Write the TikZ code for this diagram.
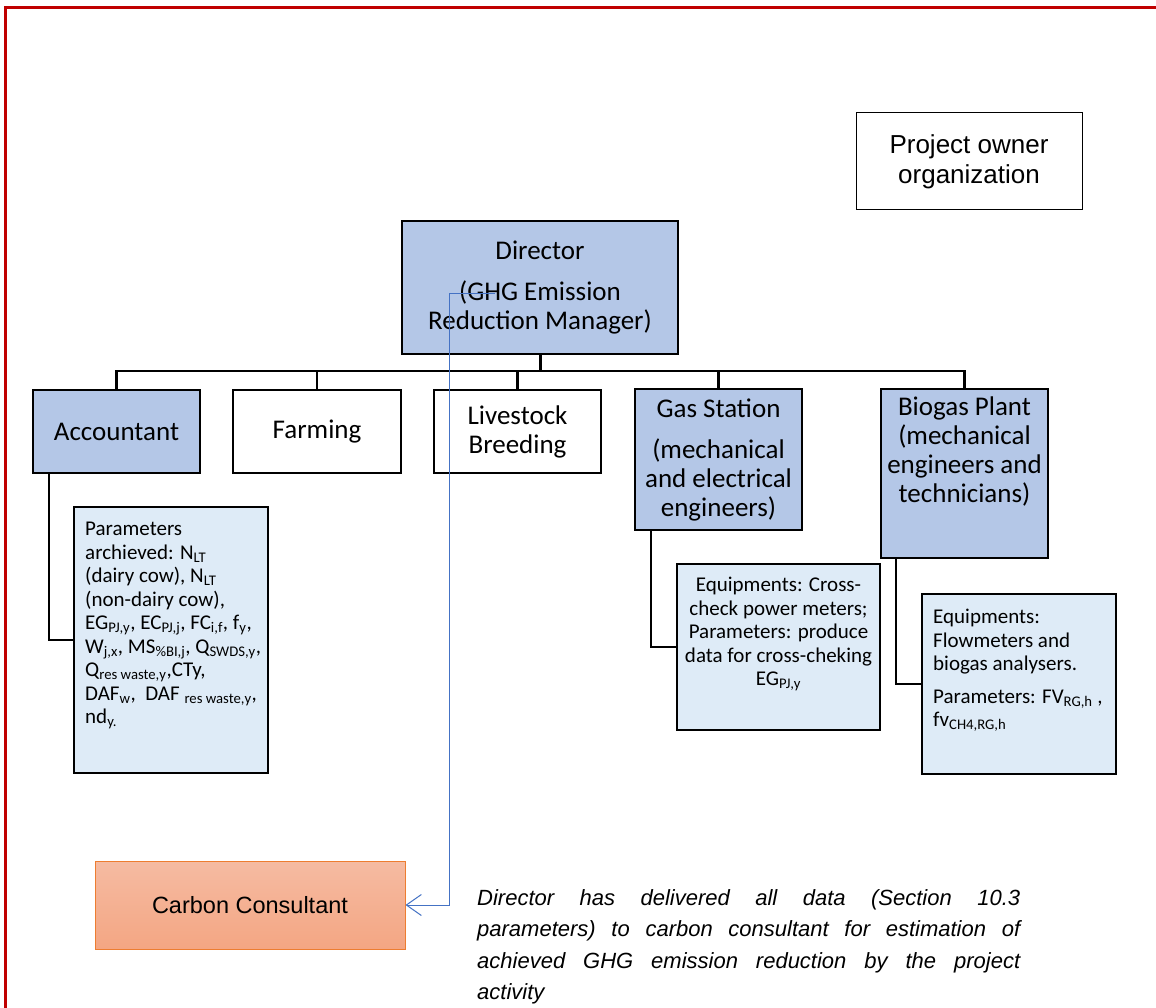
\documentclass[tikz,border=0pt]{standalone}
\usepackage{fontspec}
\setmainfont{Carlito}
\newfontfamily\arialfont{Liberation Sans}
\usetikzlibrary{arrows.meta,positioning,calc}
\definecolor{mgrblue}{HTML}{B4C7E7}
\definecolor{parblue}{HTML}{DEEBF7}
\definecolor{framered}{HTML}{C00000}
\definecolor{linkblue}{HTML}{4472C4}
\definecolor{ccline}{HTML}{ED7D31}
\definecolor{cctop}{HTML}{F5BBA2}
\definecolor{ccbot}{HTML}{F4A683}
\tikzset{%
    dept/.style={%
        rectangle, draw=black, line width=1.8pt, fill=#1, align=center,
        inner sep=0pt, font=\fontsize{27}{29}\selectfont
    },
    dept/.default=white,
    depttxt/.style={%
        inner sep=0pt, align=center, font=\fontsize{27}{29}\selectfont
    },
    paramblock/.style={%
        rectangle, draw=black, line width=1.8pt, fill=parblue, inner sep=0pt
    },
    paramtxt/.style={%
        inner sep=0pt, font=\fontsize{21}{23.5}\selectfont
    },
    ownerbox/.style={%
        rectangle, draw=black, line width=1pt, align=center, inner sep=0pt,
        font=\arialfont\fontsize{26}{30}\selectfont
    },
    consultant/.style={%
        rectangle, draw=ccline, line width=1pt, top color=cctop, bottom color=ccbot,
        inner sep=0pt, font=\arialfont\fontsize{23.5}{28}\selectfont
    },
    note/.style={%
        inner sep=0pt, text width=543pt, align=justify,
        font=\arialfont\itshape\fontsize{22}{31.5}\selectfont
    },
    tree/.style={%
        draw=black, line width=2.2pt
    },
    feed/.style={%
        draw=linkblue, line width=1pt, -{Straight Barb[length=15pt,width=21pt]}
    },
}

\begin{document}
\begin{tikzpicture}[x=1pt,y=-1pt]

    \useasboundingbox (0,0) rectangle (1156,1008);
    \fill[white] (0,0) rectangle (1156,1008);
    \draw[framered, line width=3pt] (5,1012) -- (5,8) -- (1160,8);

    \node[ownerbox, minimum width=226pt, minimum height=97pt] (owner) at (969,161.5) {Project owner\\organization};

    \node[dept=mgrblue, minimum width=276pt, minimum height=133pt] (director) at (540,287.5) {Director\\[12pt](GHG Emission\\Reduction Manager)};

    % departments
    \node[dept=mgrblue, minimum width=167pt, minimum height=83pt] (acc) at (116.5,431.5) {Accountant};
    \node[dept, minimum width=168pt, minimum height=83pt] (farm) at (317,431.5) {Farming};
    \node[dept, minimum width=167pt, minimum height=83pt] (live) at (517.5,431.5) {Livestock\\Breeding};
    \node[dept=mgrblue, minimum width=167pt, minimum height=141pt] (gas) at (718.5,459.5) {Gas Station\\[12pt](mechanical\\and electrical\\engineers)};
    \node[dept=mgrblue, minimum width=167pt, minimum height=169pt] (bio) at (964.5,473.5) {};
    \node[depttxt, anchor=north] (biotxt) at (964.5,397) {Biogas Plant\\(mechanical\\engineers and\\technicians)};

    \coordinate (bar) at (540,371);
    \draw[tree, line width=3pt] (director.south) -- (bar);
    \foreach \n in {acc,farm,live,gas,bio}
      \draw[tree] (\n.north) |- (bar);

    % parameter boxes
    \node[paramblock, minimum width=194pt, minimum height=266pt] (accpar) at (171,640) {};
    \node[paramtxt, anchor=north west, align=left] (acctxt) at (85,522) {Parameters\\
      archieved: N\textsubscript{LT}\\
      (dairy cow), N\textsubscript{LT}\\
      (non-dairy cow),\\
      EG\textsubscript{PJ,y}, EC\textsubscript{PJ,j}, FC\textsubscript{i,f}, f\textsubscript{y},\\
      W\textsubscript{j,x}, MS\textsubscript{\%BI,j}, Q\textsubscript{SWDS,y},\\
      Q\textsubscript{res waste,y},CTy,\\
      DAF\textsubscript{w},\ \ DAF \textsubscript{res waste,y},\\
      nd\textsubscript{y.}};

    \node[paramblock, minimum width=203pt, minimum height=166pt] (gaspar) at (778.5,647) {};
    \node[paramtxt, anchor=north, align=center] (gastxt) at (778.5,577) {Equipments: Cross-\\
      check power meters;\\
      Parameters: produce\\
      data for cross-cheking\\
      EG\textsubscript{PJ,y}};

    \node[paramblock, minimum width=194pt, minimum height=180pt] (biopar) at (1019,684) {};
    \node[paramtxt, anchor=north west, align=left] (biopartxt) at (933,609) {Equipments:\\
      Flowmeters and\\
      biogas analysers.\\[9pt]
      Parameters: FV\textsubscript{RG,h} ,\\
      fv\textsubscript{CH4,RG,h}};

    \draw[tree] ([xshift=17pt]acc.south west) |- (accpar.west);
    \draw[tree] ([xshift=17pt]gas.south west) |- (gaspar.west);
    \draw[tree] ([xshift=16pt]bio.south west) |- (biopar.west);

    % consultant
    \node[consultant, minimum width=310pt, minimum height=88pt] (cc) at (250,905) {Carbon Consultant};
    \coordinate (dirpt) at (495,293);
    \coordinate (dirturn) at (449,293);
    \draw[feed] (dirpt) -- (dirturn) |- (cc.east);

    \node[note, anchor=north west] (note) at (477,889) {Director has delivered all data (Section 10.3\linebreak parameters) to carbon consultant for estimation of\linebreak achieved GHG emission reduction by the project\linebreak activity};

\end{tikzpicture}
\end{document}
